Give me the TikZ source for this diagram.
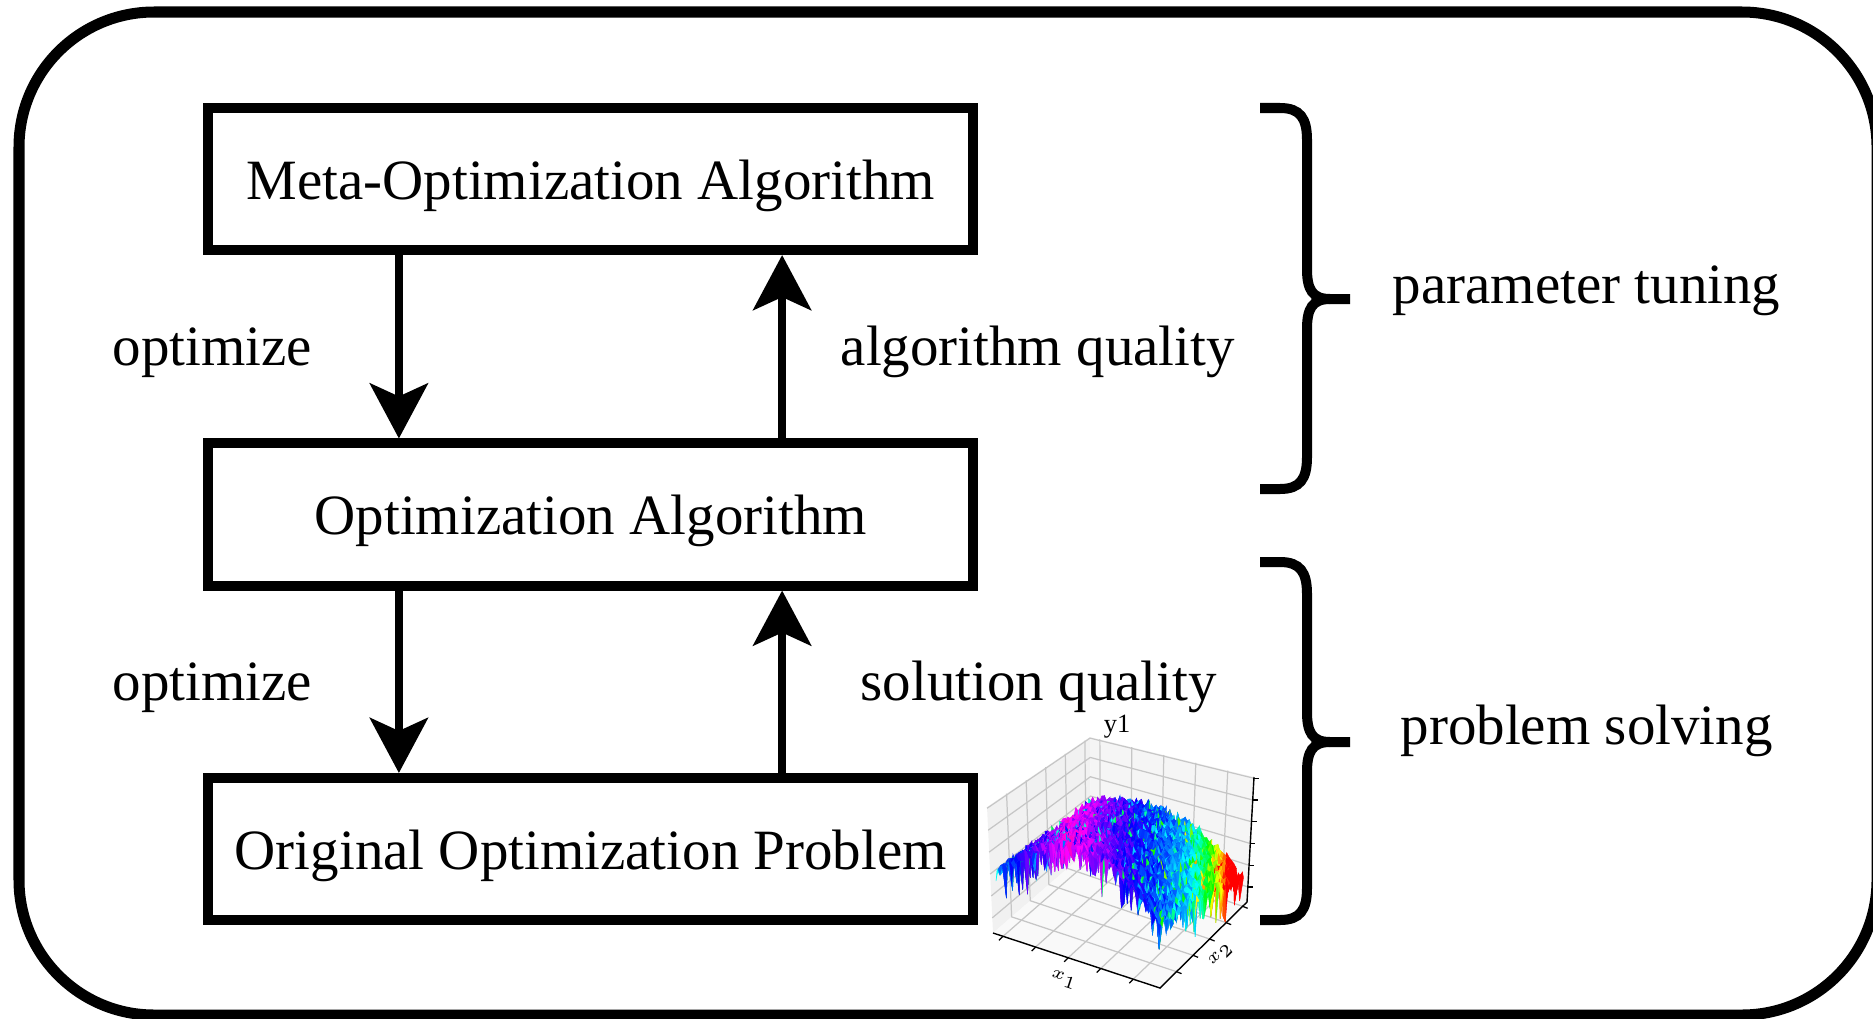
\documentclass[tikz,border=0pt]{standalone}
\usepackage{fontspec}
\setmainfont{Liberation Serif}
\usetikzlibrary{arrows.meta,calc}
\newcommand\bigfont{\fontsize{16.2}{19}\selectfont}
\begin{document}
\begin{tikzpicture}[x=0.01cm,y=-0.01cm,
  box/.style={draw, line width=0.1cm, minimum width=7.645cm, minimum height=1.42cm, inner sep=0pt,
    text height=0.55cm, text depth=0.15cm, font=\bigfont},
  lab/.style={font=\bigfont, inner sep=0pt},
  arr/.style={line width=0.08cm, -{Stealth[length=0.55cm,width=0.58cm,inset=0.13cm]}},
  bracestyle/.style={line width=0.1cm},
  gridline/.style={draw=gray!45, line width=0.35pt},
  axisline/.style={draw=black, line width=0.4pt},
  ticksty/.style={draw=black, line width=0.35pt}]
\useasboundingbox (0,0) rectangle (1873,1018);
\begin{scope}
\clip (0,0) rectangle (1873,1018);
\draw[line width=0.11cm, rounded corners=1.35cm] (19,12) rectangle (1877,1015);
\end{scope}

% boxes
\node[box] (meta) at (590.75,179) {Meta-Optimization Algorithm};
\node[box] (algo) at (590.75,514.5) {Optimization Algorithm};
\node[box] (prob) at (590.75,849) {Original Optimization Problem};

% arrows
\draw[arr] ([xshift=-1.9175cm]meta.south) -- ([xshift=-1.9175cm]algo.north);
\draw[arr] ([xshift=1.9125cm]algo.north) -- ([xshift=1.9125cm]meta.south);
\draw[arr] ([xshift=-1.9175cm]algo.south) -- ([xshift=-1.9175cm]prob.north);
\draw[arr] ([xshift=1.9125cm]prob.north) -- ([xshift=1.9125cm]algo.south);

% labels
\node[lab, anchor=base west] (opt1) at (112,365) {optimize};
\node[lab, anchor=base west] (aq) at (840,365) {algorithm quality};
\node[lab, anchor=base west] (opt2) at (112,700) {optimize};
\node[lab, anchor=base west] (sq) at (860,700) {solution quality};
\node[lab, anchor=base west] (pt) at (1392,303) {parameter tuning};
\node[lab, anchor=base west] (ps) at (1400,744) {problem solving};

% braces
\draw[bracestyle] (1260,108) -- (1280,108) .. controls (1300,108) and (1307,118) .. (1307,140)
  -- (1307,269) .. controls (1307,289) and (1312,299) .. (1330,299) -- (1350,299);
\draw[bracestyle] (1330,299) .. controls (1312,299) and (1307,309) .. (1307,329)
  -- (1307,457) .. controls (1307,479) and (1300,489) .. (1280,489) -- (1260,489);
\draw[bracestyle] (1260,562) -- (1280,562) .. controls (1300,562) and (1307,572) .. (1307,594)
  -- (1307,712) .. controls (1307,732) and (1312,742) .. (1330,742) -- (1350,742);
\draw[bracestyle] (1330,742) .. controls (1312,742) and (1307,752) .. (1307,772)
  -- (1307,888) .. controls (1307,910) and (1300,920) .. (1280,920) -- (1260,920);

% ---- 3D surface plot ----
\coordinate (L) at (993,933);
\coordinate (F) at (1160,988);
\coordinate (R) at (1247,902);
\coordinate (B) at (1091,848);
\coordinate (Lt) at (987,807);
\coordinate (Bt) at (1090,737);
\coordinate (Rt) at (1254,777);
\fill[gray!11] (L) -- (B) -- (Bt) -- (Lt) -- cycle;
\fill[gray!8] (B) -- (R) -- (Rt) -- (Bt) -- cycle;
\fill[gray!5] (L) -- (F) -- (R) -- (B) -- cycle;
\foreach \t in {0.06,0.255,0.45,0.645,0.84}{
  \draw[gridline] ($(L)!\t!(F)$) -- ($(B)!\t!(R)$) -- ($(Bt)!\t!(Rt)$);
}
\foreach \t in {0.19,0.38,0.57,0.76,0.95}{
  \draw[gridline] ($(F)!\t!(R)$) -- ($(L)!\t!(B)$) -- ($(Lt)!\t!(Bt)$);
}
\foreach \t in {0.12,0.294,0.468,0.642,0.816,0.99}{
  \draw[gridline] ($(L)!\t!(Lt)$) -- ($(B)!\t!(Bt)$) -- ($(R)!\t!(Rt)$);
}

\pgfmathsetseed{2024}
\foreach \i in {0,...,60}{
  \foreach \j in {0,...,60}{
    \pgfmathsetmacro\uu{0.02+0.96*\i/60}
    \pgfmathsetmacro\vv{0.02+0.96*\j/60}
    \pgfmathsetmacro\ra{rnd}
    \pgfmathsetmacro\rb{rnd}
    \pgfmathsetmacro\nz{0.07*(\ra-0.5)-0.30*\rb^10}
    \pgfmathsetmacro\ww{0.45+(0.43-0.2*\vv)*sin(180*\uu)-0.25*\vv*\uu+\nz}
    \pgfmathsetmacro\ss{\uu+0.56*\vv}
    \pgfmathsetmacro\hb{\ss<0.45 ? 305-230*(0.45-\ss) : 305-150*(\ss-0.45)-2000*(max(0,\ss-1.13))^2}
    \pgfmathsetmacro\hh{max(0,min(315,\hb+450*\nz))/60}
    \pgfmathsetmacro\cr{max(0,min(1,abs(\hh-3)-1))}
    \pgfmathsetmacro\cg{max(0,min(1,2-abs(\hh-2)))}
    \pgfmathsetmacro\cb{max(0,min(1,2-abs(\hh-4)))}
    \pgfmathsetmacro\fx{993*(1-\uu)*(1-\vv)+1160*\uu*(1-\vv)+1247*\uu*\vv+1091*(1-\uu)*\vv}
    \pgfmathsetmacro\fy{933*(1-\uu)*(1-\vv)+988*\uu*(1-\vv)+902*\uu*\vv+848*(1-\uu)*\vv}
    \pgfmathsetmacro\tx{987*(1-\uu)*(1-\vv)+1162*\uu*(1-\vv)+1254*\uu*\vv+1090*(1-\uu)*\vv}
    \pgfmathsetmacro\ty{807*(1-\uu)*(1-\vv)+857*\uu*(1-\vv)+777*\uu*\vv+737*(1-\uu)*\vv}
    \pgfmathsetmacro\XX{\fx+\ww*(\tx-\fx)}
    \pgfmathsetmacro\YY{\fy+\ww*(\ty-\fy)}
    \expandafter\xdef\csname qx\i-\j\endcsname{\XX}
    \expandafter\xdef\csname qy\i-\j\endcsname{\YY}
    \expandafter\xdef\csname qc\i-\j\endcsname{\cr,\cg,\cb}
  }
}
\foreach \j in {59,58,...,0}{
  \foreach \i in {0,...,59}{
    \pgfmathtruncatemacro\ip{\i+1}
    \pgfmathtruncatemacro\jp{\j+1}
    \edef\hc{\csname qc\i-\j\endcsname}
    \definecolor{qcol}{rgb}{\hc}
    \edef\xa{\csname qx\i-\j\endcsname}\edef\ya{\csname qy\i-\j\endcsname}
    \edef\xb{\csname qx\ip-\j\endcsname}\edef\yb{\csname qy\ip-\j\endcsname}
    \edef\xc{\csname qx\ip-\jp\endcsname}\edef\yc{\csname qy\ip-\jp\endcsname}
    \edef\xd{\csname qx\i-\jp\endcsname}\edef\yd{\csname qy\i-\jp\endcsname}
    \filldraw[fill=qcol,draw=qcol,line width=0.12pt] (\xa,\ya) -- (\xb,\yb) -- (\xc,\yc) -- (\xd,\yd) -- cycle;
  }
}

\draw[axisline] (L) -- (F) -- (R) -- (Rt);
\foreach \t in {0.06,0.255,0.45,0.645,0.84}{
  \draw[ticksty] ($(L)!\t!(F)$) -- ++(-4,4);
}
\foreach \t in {0.19,0.38,0.57,0.76,0.95}{
  \draw[ticksty] ($(F)!\t!(R)$) -- ++(5,2);
}
\foreach \t in {0.12,0.294,0.468,0.642,0.816,0.99}{
  \draw[ticksty] ($(R)!\t!(Rt)$) -- ++(5,0);
}
\node[font=\fontsize{7.5}{8}\selectfont, inner sep=0pt] (ylab) at (1117,727) {y1};
\node[font=\fontsize{5}{6}\selectfont, inner sep=0pt, rotate=-18] (x1lab) at (1064,980) {$x_1$};
\node[font=\fontsize{5}{6}\selectfont, inner sep=0pt, rotate=45] (x2lab) at (1221,955) {$x_2$};
\end{tikzpicture}
\end{document}
